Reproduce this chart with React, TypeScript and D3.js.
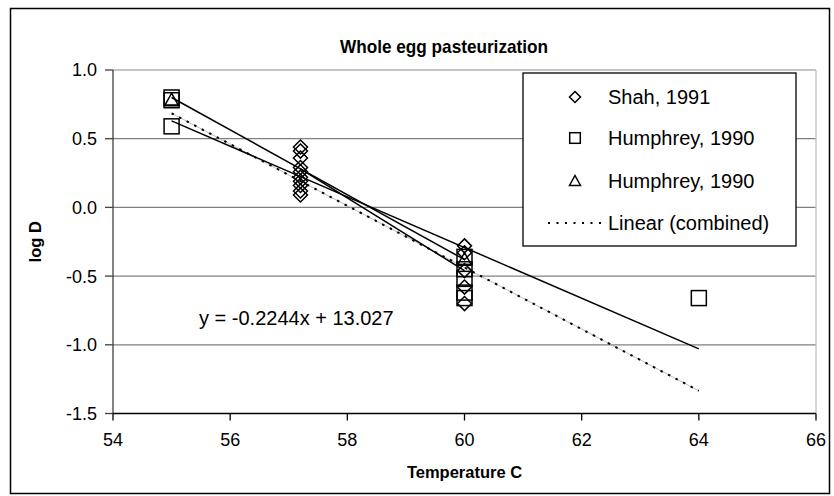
import React from "react";
import * as d3 from "d3";

// ---------- data ----------
const shahTemp = [57.2, 57.2, 57.2, 57.2, 57.2, 57.2, 57.2, 57.2, 57.2, 57.2, 60, 60, 60, 60, 60];
const shahLogD = [0.44, 0.41, 0.36, 0.29, 0.26, 0.22, 0.19, 0.16, 0.12, 0.09, -0.28, -0.33, -0.46, -0.58, -0.7];

const humSqTemp = [55, 55, 55, 60, 60, 60, 60, 60, 64];
const humSqLogD = [0.8, 0.78, 0.59, -0.36, -0.45, -0.52, -0.62, -0.66, -0.66];

const humTriTemp = [55, 60];
const humTriLogD = [0.78, -0.38];

// individual trend lines (endpoints)
const trendSqTemp = [55, 64];
const trendSqLogD = [0.63, -1.03];
const trendTriTemp = [55, 60];
const trendTriLogD = [0.8, -0.38];
const trendShahTemp = [57.2, 60];
const trendShahLogD = [0.28, -0.46];

// combined linear fit
const combinedSlope = -0.2244;
const combinedIntercept = 13.027;
const combinedRange = [55, 64];

const xTicks = [54, 56, 58, 60, 62, 64, 66];
const yTicks = [1.0, 0.5, 0.0, -0.5, -1.0, -1.5];
const legendLabels = ["Shah, 1991", "Humphrey, 1990", "Humphrey, 1990", "Linear (combined)"];
const titleText = "Whole egg pasteurization";
const xTitle = "Temperature C";
const yTitle = "log D";
const equationText = "y = -0.2244x + 13.027";

// ---------- layout ----------
const W = 834;
const H = 496;
const plot = { left: 113, right: 816, top: 70, bottom: 413.5 };
const FONT = "'Liberation Sans', Arial, Helvetica, sans-serif";

const x = d3.scaleLinear().domain([54, 66]).range([plot.left, plot.right]);
const y = d3.scaleLinear().domain([-1.5, 1.0]).range([plot.bottom, plot.top]);
const fmtY = (v: number) => d3.format(".1f")(v).replace("\u2212", "-");

function Diamond({ cx, cy, r }: { cx: number; cy: number; r: number }) {
  return (
    <path
      d={`M${cx},${cy - r}L${cx + r},${cy}L${cx},${cy + r}L${cx - r},${cy}Z`}
      fill="none"
      stroke="#000"
      strokeWidth={1.5}
    />
  );
}
function Square({ cx, cy, r }: { cx: number; cy: number; r: number }) {
  return <rect x={cx - r} y={cy - r} width={2 * r} height={2 * r} fill="none" stroke="#000" strokeWidth={1.5} />;
}
function Triangle({ cx, cy, r }: { cx: number; cy: number; r: number }) {
  return (
    <path
      d={`M${cx},${cy - r}L${cx + r},${cy + r * 0.8}L${cx - r},${cy + r * 0.8}Z`}
      fill="none"
      stroke="#000"
      strokeWidth={1.5}
    />
  );
}

export default function App() {
  React.useEffect(() => {
    document.body.style.margin = "0";
  }, []);

  const line = d3
    .line<[number, number]>()
    .x((d) => x(d[0]))
    .y((d) => y(d[1]));

  const pairs = (xs: number[], ys: number[]) => xs.map((v, i) => [v, ys[i]] as [number, number]);
  const combinedPts = combinedRange.map((t) => [t, combinedSlope * t + combinedIntercept] as [number, number]);

  const legendRowsY = [97, 138, 181, 223];
  const legendMarkerX = 575;
  const legendTextX = 608;

  return (
    <svg width={W} height={H} style={{ position: "absolute", left: 0, top: 0, display: "block" }} fontFamily={FONT}>
      <rect x={0} y={0} width={W} height={H} fill="#fff" />
      {/* outer chart border */}
      <rect x={10.5} y={8.5} width={819} height={485} fill="none" stroke="#000" strokeWidth={1.5} />

      {/* title */}
      <text x={444} y={53} textAnchor="middle" fontSize={19} fontWeight="bold" textLength={208} lengthAdjust="spacingAndGlyphs">
        {titleText}
      </text>

      {/* gridlines */}
      {yTicks.map((t) =>
        t === -1.5 ? null : (
          <line key={"g" + t} x1={plot.left} x2={plot.right} y1={y(t)} y2={y(t)} stroke={t === 1.0 ? "#b0b0b0" : "#808080"} strokeWidth={1.3} />
        )
      )}
      {/* right border of plot area */}
      <line x1={plot.right} x2={plot.right} y1={plot.top} y2={plot.bottom} stroke="#c0c0c0" strokeWidth={1.3} />

      {/* axes */}
      <line x1={plot.left} x2={plot.left} y1={plot.top} y2={plot.bottom} stroke="#404040" strokeWidth={1.3} />
      <line x1={plot.left} x2={plot.right} y1={plot.bottom} y2={plot.bottom} stroke="#000" strokeWidth={1.5} />
      {yTicks.map((t) => (
        <g key={"yt" + t}>
          <line x1={plot.left - 8} x2={plot.left} y1={y(t)} y2={y(t)} stroke="#404040" strokeWidth={1.3} />
          <text x={97} y={y(t)} dy="0.36em" textAnchor="end" fontSize={18}>
            {fmtY(t)}
          </text>
        </g>
      ))}
      {xTicks.map((t) => (
        <g key={"xt" + t}>
          <line x1={x(t)} x2={x(t)} y1={plot.bottom} y2={plot.bottom + 7} stroke="#000" strokeWidth={1.3} />
          <text x={x(t)} y={446} textAnchor="middle" fontSize={18}>
            {t}
          </text>
        </g>
      ))}
      <text x={x(60)} y={478} textAnchor="middle" fontSize={16.5} fontWeight="bold">
        {xTitle}
      </text>
      <text transform={`translate(41,${y(-0.25)}) rotate(-90)`} textAnchor="middle" fontSize={16.5} fontWeight="bold">
        {yTitle}
      </text>

      {/* combined linear fit: thin grey line + black dots */}
      <path d={line(combinedPts) || ""} fill="none" stroke="#a0a0a0" strokeWidth={0.7} />
      <path d={line(combinedPts) || ""} fill="none" stroke="#000" strokeWidth={2} strokeDasharray="2.5,6" />

      {/* individual trend lines */}
      <path d={line(pairs(trendSqTemp, trendSqLogD)) || ""} fill="none" stroke="#000" strokeWidth={1.5} />
      <path d={line(pairs(trendTriTemp, trendTriLogD)) || ""} fill="none" stroke="#000" strokeWidth={1.5} />
      <path d={line(pairs(trendShahTemp, trendShahLogD)) || ""} fill="none" stroke="#000" strokeWidth={1.5} />

      {/* markers */}
      {shahTemp.map((t, i) => (
        <Diamond key={"d" + i} cx={x(t)} cy={y(shahLogD[i])} r={7} />
      ))}
      {humSqTemp.map((t, i) => (
        <Square key={"s" + i} cx={x(t)} cy={y(humSqLogD[i])} r={7.5} />
      ))}
      {humTriTemp.map((t, i) => (
        <Triangle key={"t" + i} cx={x(t)} cy={y(humTriLogD[i])} r={7} />
      ))}

      {/* equation */}
      <text x={199} y={325} fontSize={20}>
        {equationText}
      </text>

      {/* legend */}
      <rect x={523} y={73} width={273} height={173} fill="#fff" stroke="#000" strokeWidth={1.3} />
      <Diamond cx={legendMarkerX} cy={legendRowsY[0]} r={5.5} />
      <Square cx={legendMarkerX} cy={legendRowsY[1]} r={5.3} />
      <Triangle cx={legendMarkerX} cy={legendRowsY[2]} r={5.5} />
      <line x1={548} x2={605} y1={legendRowsY[3]} y2={legendRowsY[3]} stroke="#000" strokeWidth={2} strokeDasharray="2,6.5" />
      {legendLabels.map((l, i) => (
        <text key={"l" + i} x={legendTextX} y={legendRowsY[i]} dy="0.36em" fontSize={20}>
          {l}
        </text>
      ))}
    </svg>
  );
}
